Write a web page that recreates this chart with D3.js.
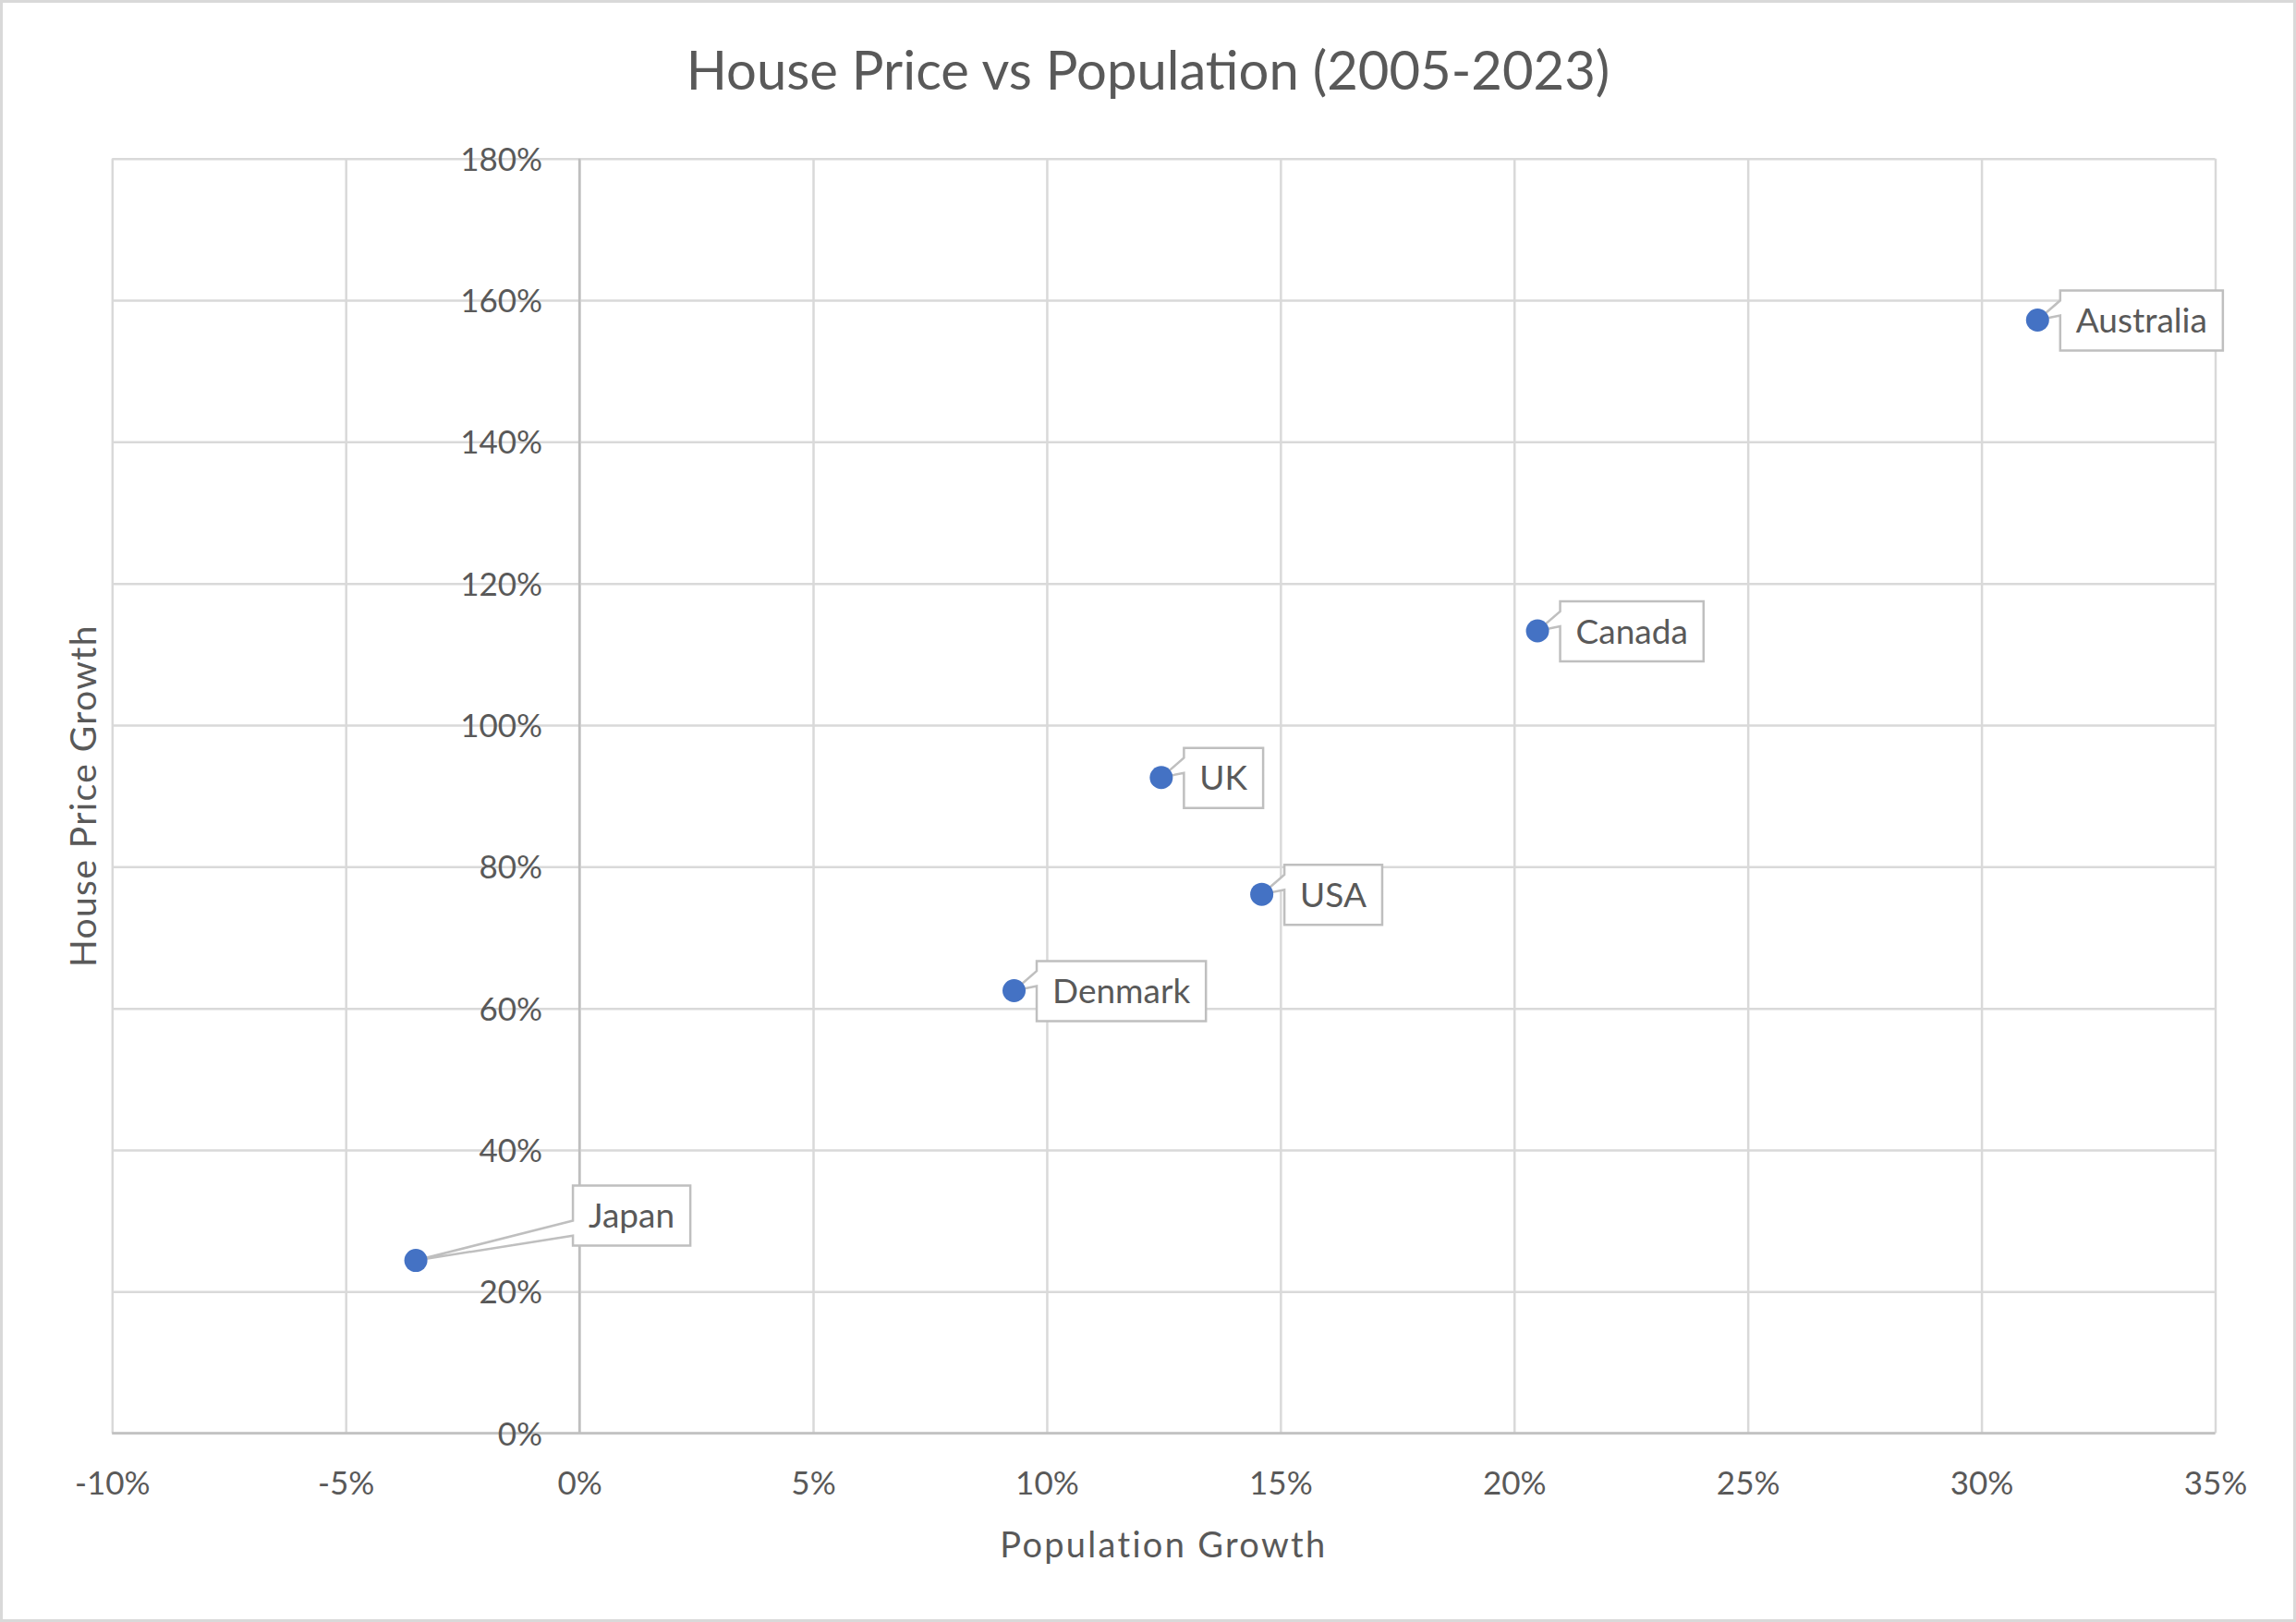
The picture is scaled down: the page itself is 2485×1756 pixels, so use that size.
<!DOCTYPE html>
<html>
<head>
<meta charset="utf-8">
<script src="https://cdn.jsdelivr.net/npm/d3@7"></script>
<style>
  body { margin: 0; background: #fff; }
  text { font-family: Lato, "Noto Sans", sans-serif; fill: #595959; }
</style>
</head>
<body>
<svg id="chart"></svg>
<script>
// data (percent)
const countries = ["Japan", "Denmark", "UK", "USA", "Canada", "Australia"];
const popGrowth = [-3.5, 9.3, 12.45, 14.6, 20.5, 31.2];
const priceGrowth = [24.4, 62.5, 92.6, 76.1, 113.3, 157.2];
const xTickValues = [-10, -5, 0, 5, 10, 15, 20, 25, 30, 35];
const yTickValues = [0, 20, 40, 60, 80, 100, 120, 140, 160, 180];

// label placement (Japan's label was dragged away in the original)
const labelOffset = {dx: 24.5, dy: -32};
const labelNudge = {Japan: {dx: 170, dy: -81}};

const W = 2485, H = 1756;
const plot = {left: 121.3, right: 2397.5, top: 171.7, bottom: 1551.6};

const svg = d3.select("#chart").attr("width", W).attr("height", H);

svg.append("rect")
  .attr("x", 1.5).attr("y", 1.5)
  .attr("width", W - 3).attr("height", H - 3)
  .attr("fill", "#fff").attr("stroke", "#d9d9d9").attr("stroke-width", 3);

const x = d3.scaleLinear().domain([-10, 35]).range([plot.left, plot.right]);
const y = d3.scaleLinear().domain([0, 180]).range([plot.bottom, plot.top]);

//gridlines
svg.append("g")
  .attr("transform", "translate(0," + plot.bottom + ")")
  .call(d3.axisBottom(x).tickValues(xTickValues).tickSize(-(plot.bottom - plot.top)).tickFormat(""))
  .call(g => g.select(".domain").remove())
  .call(g => g.selectAll("line").attr("stroke", "#d9d9d9").attr("stroke-width", 2.5));

svg.append("g")
  .attr("transform", "translate(" + plot.left + ",0)")
  .call(d3.axisLeft(y).tickValues(yTickValues).tickSize(-(plot.right - plot.left)).tickFormat(""))
  .call(g => g.select(".domain").remove())
  .call(g => g.selectAll("line").attr("stroke", "#d9d9d9").attr("stroke-width", 2.5));

// axis lines (vertical axis crosses at x = 0)
svg.append("line")
  .attr("x1", x(0)).attr("x2", x(0)).attr("y1", plot.top).attr("y2", plot.bottom)
  .attr("stroke", "#bfbfbf").attr("stroke-width", 2.5);
svg.append("line")
  .attr("x1", plot.left).attr("x2", plot.right).attr("y1", y(0)).attr("y2", y(0))
  .attr("stroke", "#bfbfbf").attr("stroke-width", 2.5);

// tick labels
svg.append("g")
  .attr("transform", "translate(0," + y(0) + ")")
  .call(d3.axisBottom(x).tickValues(xTickValues).tickSize(0).tickFormat(d => d + "%"))
  .call(g => g.select(".domain").remove())
  .call(g => g.selectAll("text")
    .attr("y", 66).attr("dy", null)
    .attr("font-size", 35).attr("fill", "#595959")
    .style("font-family", "Lato"));

svg.append("g")
  .attr("transform", "translate(" + x(0) + ",0)")
  .call(d3.axisLeft(y).tickValues(yTickValues).tickSize(0).tickPadding(40).tickFormat(d => d + "%"))
  .call(g => g.select(".domain").remove())
  .call(g => g.selectAll("text")
    .attr("dy", "0.36em")
    .attr("font-size", 35).attr("fill", "#595959")
    .style("font-family", "Lato"));

// titles
svg.append("text")
  .attr("x", W / 2).attr("y", 96.7)
  .attr("text-anchor", "middle")
  .attr("font-size", 58)
  .text("House Price vs Population (2005-2023)");

svg.append("text")
  .attr("x", (plot.left + plot.right) / 2).attr("y", 1685.7)
  .attr("text-anchor", "middle")
  .attr("font-size", 38)
  .attr("letter-spacing", 2.3)
  .text("Population Growth");

svg.append("text")
  .attr("transform", "translate(103.6," + (plot.top + plot.bottom) / 2 + ") rotate(-90)")
  .attr("text-anchor", "middle")
  .attr("font-size", 39)
  .attr("letter-spacing", 1.4)
  .text("House Price Growth");

// callout shape like the office "wedgeRectCallout"
function callout(l, t, w, h, tx, ty) {
  const r = l + w, b = t + h, hc = l + w / 2, vc = t + h / 2;
  const dxPos = tx - hc, dyPos = ty - vc;
  const dq = dxPos * h / w;
  const dz = Math.abs(dyPos) - Math.abs(dq);
  const pick = (c, a, bb) => (c > 0 ? a : bb);
  const x1 = l + w * pick(dxPos, 7, 2) / 12, x2 = l + w * pick(dxPos, 10, 5) / 12;
  const y1 = t + h * pick(dyPos, 7, 2) / 12, y2 = t + h * pick(dyPos, 10, 5) / 12;
  const xl = pick(dz, l, pick(dxPos, l, tx)), yl = pick(dz, y1, pick(dxPos, y1, ty));
  const xt = pick(dz, pick(dyPos, x1, tx), x1), yt = pick(dz, pick(dyPos, t, ty), t);
  const xr = pick(dz, r, pick(dxPos, tx, r)), yr = pick(dz, y1, pick(dxPos, ty, y1));
  const xb = pick(dz, pick(dyPos, tx, x1), x1), yb = pick(dz, pick(dyPos, ty, b), b);
  const p = d3.path();
  p.moveTo(l, t); p.lineTo(x1, t); p.lineTo(xt, yt); p.lineTo(x2, t); p.lineTo(r, t);
  p.lineTo(r, y1); p.lineTo(xr, yr); p.lineTo(r, y2); p.lineTo(r, b);
  p.lineTo(x2, b); p.lineTo(xb, yb); p.lineTo(x1, b); p.lineTo(l, b);
  p.lineTo(l, y2); p.lineTo(xl, yl); p.lineTo(l, y1); p.closePath();
  return p.toString();
}

const data = countries.map((c, i) => ({name: c, px: popGrowth[i], hp: priceGrowth[i]}));

const labels = svg.append("g");
data.forEach(d => {
  const cx = x(d.px), cy = y(d.hp);
  const off = labelNudge[d.name] || labelOffset;
  const g = labels.append("g");
  const path = g.append("path")
    .attr("fill", "#fff").attr("stroke", "#bfbfbf").attr("stroke-width", 2.5)
    .attr("stroke-linejoin", "miter");
  const txt = g.append("text")
    .attr("font-size", 37)
    .text(d.name);
  const tw = txt.node().getComputedTextLength();
  const bw = tw + 34, bh = 65;
  const bl = cx + off.dx, bt = cy + off.dy;
  txt.attr("x", bl + 17).attr("y", bt + bh / 2 + 13.2);
  path.attr("d", callout(bl, bt, bw, bh, cx, cy));
});

// points on top
svg.append("g").selectAll("circle")
  .data(data).enter().append("circle")
  .attr("cx", d => x(d.px))
  .attr("cy", d => y(d.hp))
  .attr("r", 12.5)
  .attr("fill", "#4472c4");
</script>
</body>
</html>
